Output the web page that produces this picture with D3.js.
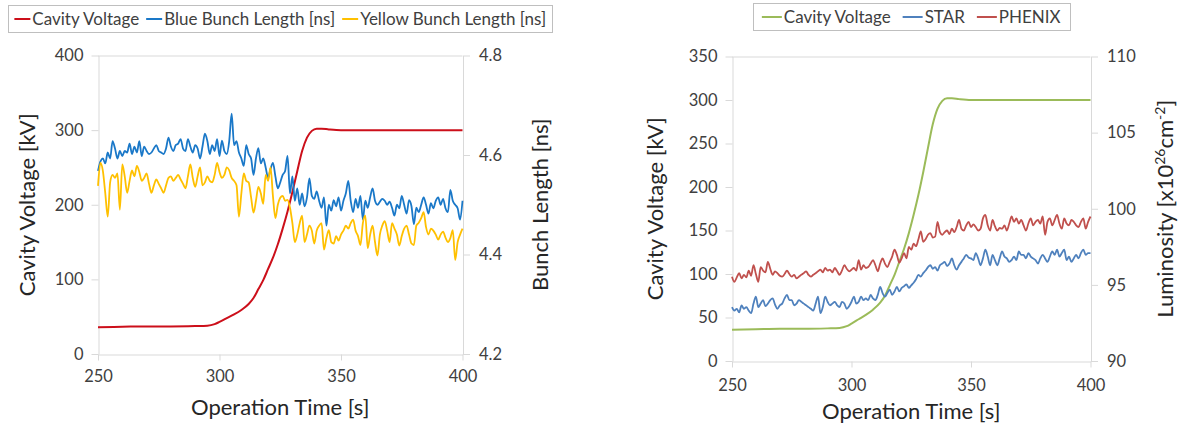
<!DOCTYPE html>
<html>
<head>
<meta charset="utf-8">
<script src="https://cdn.jsdelivr.net/npm/d3@7"></script>
<style>
  body { margin: 0; background: #fff; }
  svg { display: block; }
  text { font-family: Lato, "Open Sans", sans-serif; }
</style>
</head>
<body>
<div id="chart"></div>
<script>
// sampling times of the noisy series (1 s steps)
const time = d3.range(250, 401);

// cavity voltage ramp [kV] (same ramp in both panels)
const vTime = [250, 260, 270, 280, 290, 295, 298, 300, 303, 306, 309, 312, 314, 316, 318, 320, 322, 324, 326, 328, 330, 332, 334, 336, 338, 340, 342, 345, 350, 360, 380, 400];
const cavityV = [36, 36.5, 37, 37, 37.5, 38, 40, 43, 48, 53, 59, 67, 75, 87, 99, 114, 129, 147, 168, 191, 217, 245, 272, 290, 299, 302, 302, 301, 300, 300, 300, 300];

// bunch length [ns]
const blueBunch = [
  4.568, 4.587, 4.593, 4.583, 4.605, 4.593, 4.628, 4.613, 4.593, 4.608,
  4.598, 4.608, 4.605, 4.623, 4.602, 4.617, 4.605, 4.628, 4.598, 4.617,
  4.608, 4.602, 4.605, 4.613, 4.62, 4.608, 4.605, 4.602, 4.613, 4.635,
  4.617, 4.608, 4.62, 4.623, 4.632, 4.613, 4.608, 4.632, 4.617, 4.605,
  4.62, 4.613, 4.593, 4.617, 4.643, 4.628, 4.602, 4.62, 4.608, 4.632,
  4.598, 4.629, 4.608, 4.602, 4.628, 4.683, 4.62, 4.628, 4.605, 4.593,
  4.578, 4.62, 4.602, 4.593, 4.56, 4.593, 4.614, 4.583, 4.593, 4.575,
  4.554, 4.572, 4.584, 4.557, 4.533, 4.545, 4.56, 4.568, 4.598, 4.523,
  4.557, 4.508, 4.533, 4.50, 4.523, 4.497, 4.515, 4.553, 4.518, 4.512,
  4.527, 4.508, 4.494, 4.515, 4.458, 4.50, 4.488, 4.509, 4.497, 4.515,
  4.488, 4.508, 4.523, 4.548, 4.508, 4.485, 4.512, 4.494, 4.518, 4.47,
  4.508, 4.494, 4.515, 4.533, 4.508, 4.50, 4.506, 4.512, 4.508, 4.50,
  4.506, 4.494, 4.478, 4.50, 4.493, 4.518, 4.50, 4.482, 4.509, 4.497,
  4.461, 4.494, 4.485, 4.50, 4.515, 4.50, 4.482, 4.503, 4.493, 4.508,
  4.515, 4.50, 4.512, 4.493, 4.485, 4.53, 4.508, 4.50, 4.493, 4.47,
  4.508
];
const yellowBunch = [
  4.538, 4.584, 4.568, 4.523, 4.476, 4.545, 4.56, 4.554, 4.563, 4.49,
  4.581, 4.557, 4.524, 4.548, 4.569, 4.557, 4.578, 4.566, 4.548, 4.554,
  4.563, 4.542, 4.524, 4.539, 4.551, 4.542, 4.533, 4.524, 4.539, 4.554,
  4.557, 4.548, 4.554, 4.56, 4.551, 4.542, 4.533, 4.557, 4.581, 4.554,
  4.536, 4.557, 4.575, 4.539, 4.545, 4.557, 4.548, 4.545, 4.56, 4.584,
  4.566, 4.554, 4.56, 4.575, 4.569, 4.554, 4.548, 4.539, 4.476, 4.523,
  4.563, 4.548, 4.545, 4.515, 4.484, 4.508, 4.536, 4.523, 4.502, 4.56,
  4.548, 4.575, 4.517, 4.473, 4.5, 4.514, 4.518, 4.508,
  4.51, 4.494, 4.463, 4.425, 4.44, 4.463, 4.478, 4.425, 4.44, 4.458,
  4.448, 4.422, 4.448, 4.458, 4.463, 4.41, 4.433, 4.449, 4.425, 4.422,
  4.437, 4.428, 4.44, 4.448, 4.458, 4.452, 4.463, 4.47, 4.448, 4.437,
  4.419, 4.463, 4.478, 4.413, 4.44, 4.458, 4.425, 4.398, 4.44, 4.458,
  4.467, 4.448, 4.425, 4.463, 4.452, 4.44, 4.418, 4.437, 4.452, 4.458,
  4.44, 4.422, 4.419, 4.458, 4.464, 4.473, 4.485, 4.455, 4.44, 4.452,
  4.448, 4.44, 4.43, 4.44, 4.446, 4.434, 4.425, 4.433, 4.449, 4.389,
  4.425, 4.44, 4.452
];

// luminosity [x10^26 cm^-2]
const star = [
  93.54, 93.31, 93.43, 93.2, 93.66, 93.43, 93.54, 93.31, 93.14, 93.77,
  94.23, 93.54, 93.77, 94.0, 93.6, 93.77, 94.0, 94.11, 93.71, 93.43,
  93.66, 93.77, 94.11, 94.34, 94.0, 94.0, 93.66, 93.77, 94.0, 93.89,
  93.77, 93.66, 93.54, 93.43, 93.31, 93.77, 94.23, 93.14, 93.54, 94.23,
  93.89, 93.66, 93.77, 93.89, 93.66, 93.54, 93.89, 93.77, 93.43, 93.6,
  93.89, 94.23, 93.77, 93.89, 94.23, 94.0, 94.11, 94.0, 94.34, 94.11,
  94.0, 94.34, 94.86, 94.46, 94.23, 94.46, 94.69, 94.34, 94.57, 94.86,
  94.57, 94.8, 94.91, 95.03, 94.8, 94.97, 95.14, 95.37, 95.66, 95.54,
  95.77, 95.94, 96.17, 96.29, 96.06, 96.17, 95.94, 96.29, 96.4, 96.51,
  96.23, 96.4, 96.74, 96.29, 96.0, 96.29, 96.51, 96.74, 96.97, 96.8,
  96.74, 96.63, 97.09, 96.74, 96.29, 96.74, 97.31, 96.86, 96.29, 96.97,
  96.63, 96.29, 96.74, 97.2, 96.86, 96.74, 96.51, 96.63, 96.86, 96.63,
  97.2, 96.97, 96.97, 96.74, 97.09, 96.86, 96.74, 96.63, 96.4, 96.74,
  96.97, 96.74, 96.51, 96.86, 97.2, 96.97, 97.31, 96.86, 97.09, 97.31,
  96.63, 96.86, 96.51, 96.74, 96.97, 96.74, 97.09, 97.31, 96.97, 97.09,
  97.09
];
const phenix = [
  95.54, 95.2, 95.49, 95.77, 95.43, 95.66, 95.49, 95.94, 95.6, 96.29,
  95.71, 95.2, 96.17, 95.94, 95.83, 96.51, 96.06, 95.66, 95.89, 95.77,
  95.6, 95.54, 95.71, 95.94, 95.71, 95.54, 95.66, 95.43, 95.54, 95.66,
  95.77, 95.89, 95.66, 95.54, 95.66, 95.77, 95.89, 96.0, 95.83, 96.11,
  95.94, 96.0, 95.83, 96.11, 95.89, 95.66, 95.94, 96.29, 96.06, 95.89,
  96.0, 96.11, 95.94, 96.63, 96.0, 96.29, 96.11, 96.17, 96.4, 96.63,
  96.29, 95.89, 96.4, 96.74, 96.4, 96.17, 96.51, 96.86, 97.31, 96.97,
  96.46, 96.74, 97.09, 96.74, 97.49, 97.31, 97.71, 97.54, 98.0, 98.51,
  97.83, 98.0, 98.29, 98.4, 98.11, 98.17, 99.14, 98.46, 98.29, 98.46,
  98.57, 98.34, 98.69, 98.46, 98.8, 99.26, 98.69, 98.57, 98.91, 99.14,
  98.8, 98.97, 98.8, 98.57, 98.69, 99.37, 99.6, 98.91, 98.57, 99.26,
  98.86, 98.57, 98.74, 98.69, 98.91, 98.57, 99.03, 99.49, 99.14, 99.37,
  99.03, 99.26, 98.91, 98.57, 99.03, 99.37, 98.91, 99.14, 99.26, 99.03,
  99.49, 98.29, 99.14, 99.37, 98.91, 99.26, 99.6, 99.03, 98.69, 99.37,
  99.03, 98.91, 99.26, 99.14, 98.91, 98.8, 99.14, 99.37, 98.69, 99.14,
  99.49
];

// tick labels
const timeTicks = [250, 300, 350, 400];
const kvTicksA = [0, 100, 200, 300, 400];
const nsTicks = [4.2, 4.4, 4.6, 4.8];
const kvTicksB = [0, 50, 100, 150, 200, 250, 300, 350];
const lumTicks = [90, 95, 100, 105, 110];

const W = 1180, H = 427;
const grey = '#d9d9d9';
const txt = '#404040';

const svg = d3.select('#chart')
  .append('svg')
  .attr('width', W)
  .attr('height', H);

svg.append('rect').attr('width', W).attr('height', H).attr('fill', '#fff');

function panel(p) {
  const g = svg.append('g');
  const x = d3.scaleLinear().domain([250, 400]).range([p.left, p.right]);
  const yL = d3.scaleLinear().domain(p.yLdom).range([p.bottom, p.top]);
  const yR = d3.scaleLinear().domain(p.yRdom).range([p.bottom, p.top]);

  const styleAxis = sel => {
    sel.selectAll('.domain').attr('stroke', grey).attr('stroke-width', 1).attr('fill', 'none');
    sel.selectAll('.tick line').attr('stroke', grey).attr('stroke-width', 1);
    sel.selectAll('.tick text').attr('fill', txt).attr('font-size', 16.5).attr('font-family', 'Lato');
  };

  // frame top
  g.append('line')
    .attr('x1', p.left).attr('x2', p.right)
    .attr('y1', p.top + 0.5).attr('y2', p.top + 0.5)
    .attr('stroke', grey);

  g.append('g')
    .attr('transform', `translate(0,${p.bottom + 0.5})`)
    .call(d3.axisBottom(x).tickValues(timeTicks).tickSize(6).tickSizeOuter(0).tickPadding(p.xPad))
    .call(styleAxis);

  g.append('g')
    .attr('transform', `translate(${p.left + 0.5},0)`)
    .call(d3.axisLeft(yL).tickValues(p.yLticks).tickSize(7).tickSizeOuter(0).tickPadding(8))
    .call(styleAxis);

  g.append('g')
    .attr('transform', `translate(${p.right + 0.5},0)`)
    .call(d3.axisRight(yR).tickValues(p.yRticks).tickSize(7).tickSizeOuter(0).tickPadding(9).tickFormat(p.yRfmt))
    .call(styleAxis);

  // series
  p.series.forEach(s => {
    const sc = s.axis === 'L' ? yL : yR;
    const line = d3.line()
      .x((d, i) => x(s.t[i]))
      .y(d => sc(d))
      .curve(d3.curveMonotoneX);
    g.append('path')
      .datum(s.v)
      .attr('d', line)
      .attr('fill', 'none')
      .attr('stroke', s.color)
      .attr('stroke-width', s.w)
      .attr('stroke-linejoin', 'round');
  });

  // axis titles
  const cx = (p.left + p.right) / 2;
  const cy = (p.top + p.bottom) / 2;
  g.append('text')
    .attr('x', cx).attr('y', p.xTitleY)
    .attr('text-anchor', 'middle')
    .attr('font-size', 22).attr('fill', '#262626')
    .text('Operation Time [s]');
  g.append('text')
    .attr('transform', `translate(${p.lTitleX},${cy}) rotate(-90)`)
    .attr('text-anchor', 'middle')
    .attr('font-size', 22).attr('fill', '#262626')
    .text('Cavity Voltage [kV]');
  const rt = g.append('text')
    .attr('transform', `translate(${p.rTitleX},${cy}) rotate(-90)`)
    .attr('text-anchor', 'middle')
    .attr('font-size', 22).attr('fill', '#262626');
  p.rTitle(rt);

  // legend, centred over the plot
  const lg = g.append('g');
  const L = p.leg;
  let cur = 0;
  p.series.forEach(s => {
    const it = lg.append('g').attr('transform', `translate(${cur},0)`);
    it.append('line').attr('x1', 0).attr('x2', L.sw).attr('y1', 0).attr('y2', 0)
      .attr('stroke', s.color).attr('stroke-width', 2);
    const t = it.append('text').attr('x', L.sw + 2).attr('y', 6)
      .attr('font-size', 17).attr('fill', txt).text(s.name);
    cur += L.sw + 2 + t.node().getComputedTextLength() + L.gap;
  });
  cur -= L.gap;
  const bx = cx - cur / 2;
  lg.attr('transform', `translate(${bx},${L.y})`);
  g.insert('rect', 'g')
    .attr('x', Math.round(bx - L.pad) + 0.5).attr('y', L.y - 13.5)
    .attr('width', Math.round(cur + 2 * L.pad)).attr('height', 27)
    .attr('fill', '#fff').attr('stroke', '#bfbfbf');
  lg.raise();
}

panel({
  left: 98, right: 462.5, top: 55.5, bottom: 354,
  yLdom: [0, 400], yRdom: [4.2, 4.8],
  yLticks: kvTicksA, yRticks: nsTicks, yRfmt: d3.format('.1f'),
  xPad: 10, xTitleY: 415, lTitleX: 35, rTitleX: 548,
  leg: { y: 19, sw: 16, gap: 7, pad: 6 },
  rTitle: t => t.text('Bunch Length [ns]'),
  series: [
    { name: 'Cavity Voltage', t: vTime, v: cavityV, axis: 'L', color: '#cc0f1a', w: 2 },
    { name: 'Blue Bunch Length [ns]', t: time, v: blueBunch, axis: 'R', color: '#1a78c8', w: 1.8 },
    { name: 'Yellow Bunch Length [ns]', t: time, v: yellowBunch, axis: 'R', color: '#ffc000', w: 1.8 }
  ]
});

panel({
  left: 732, right: 1090.5, top: 56.5, bottom: 361,
  yLdom: [0, 350], yRdom: [90, 110],
  yLticks: kvTicksB, yRticks: lumTicks, yRfmt: d3.format('d'),
  xPad: 12, xTitleY: 419, lTitleX: 663, rTitleX: 1173,
  leg: { y: 17, sw: 20, gap: 12, pad: 9 },
  rTitle: t => {
    t.append('tspan').text('Luminosity [x10');
    t.append('tspan').attr('dy', -8).attr('font-size', 14).text('26');
    t.append('tspan').attr('dy', 8).text('cm');
    t.append('tspan').attr('dy', -8).attr('font-size', 14).text('-2');
    t.append('tspan').attr('dy', 8).text(']');
  },
  series: [
    { name: 'Cavity Voltage', t: vTime, v: cavityV, axis: 'L', color: '#9bbb59', w: 2 },
    { name: 'STAR', t: time, v: star, axis: 'R', color: '#4f81bd', w: 1.8 },
    { name: 'PHENIX', t: time, v: phenix, axis: 'R', color: '#c0504d', w: 1.8 }
  ]
});
</script>
</body>
</html>
